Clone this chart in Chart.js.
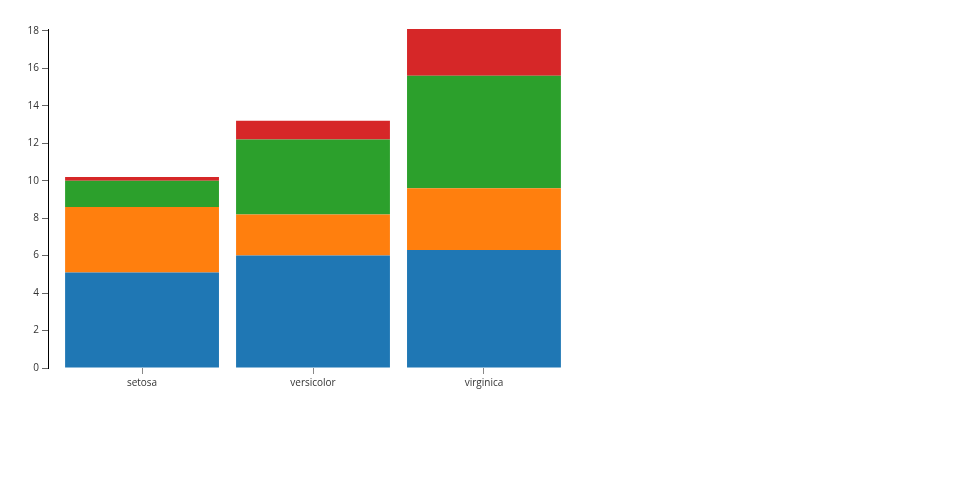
<!DOCTYPE html>
<html>
<head>
<meta charset="utf-8">
<script src="https://cdn.jsdelivr.net/npm/chart.js@4/dist/chart.umd.min.js"></script>
<style>
  html, body { margin: 0; padding: 0; background: #fff; }
  #wrap { width: 960px; height: 500px; }
</style>
</head>
<body>
<div id="wrap"><canvas id="irisChart"></canvas></div>
<script>
// Data

const species = ['setosa', 'versicolor', 'virginica'];
const sepalLength = [5.1, 6.0, 6.3];
const sepalWidth = [3.5, 2.2, 3.3];
const petalLength = [1.4, 4.0, 6.0];
const petalWidth = [0.2, 1.0, 2.5];
const yTicks = [0, 2, 4, 6, 8, 10, 12, 14, 16, 18];

const pallete = ['#1f77b4', '#ff7f0e', '#2ca02c', '#d62728'];

function toPoints(values) {
  return values.map((v, i) => ({ x: i, y: v }));
}

const font = { family: "'Open Sans', 'Noto Sans', sans-serif", size: 10 };

const irisChart = new Chart(document.getElementById('irisChart'), {
  type: 'bar',
  data: {
    datasets: [
      { label: 'sepal length', data: toPoints(sepalLength), backgroundColor: pallete[0] },
      { label: 'sepal width', data: toPoints(sepalWidth), backgroundColor: pallete[1] },
      { label: 'petal length', data: toPoints(petalLength), backgroundColor: pallete[2] },
      { label: 'petal width', data: toPoints(petalWidth), backgroundColor: pallete[3] },
    ]
  },
  options: {
    responsive: true,
    maintainAspectRatio: false,
    animation: false,
    events: [],
    layout: { padding: { left: 0, top: 29, right: 382, bottom: 102 } },
    datasets: { bar: { categoryPercentage: 1, barPercentage: 0.9, borderWidth: 0 } },
    plugins: { legend: { display: false }, tooltip: { enabled: false } },
    scales: {
      x: {
        type: 'linear',
        stacked: true,
        offset: false,
        min: -0.55,
        max: species.length - 0.45,
        afterBuildTicks: scale => { scale.ticks = species.map((s, i) => ({ value: i })); },
        afterFit: scale => { scale.height = 30; },
        ticks: {
          callback: (value) => species[value],
          font: font,
          color: '#333',
          padding: 3,
          autoSkip: false,
          maxRotation: 0,
        },
        grid: { offset: false, drawOnChartArea: false, tickLength: 6, color: '#888', lineWidth: 1 },
        border: { display: false },
      },
      y: {
        stacked: true,
        min: 0,
        max: 18.1,
        afterBuildTicks: scale => { scale.ticks = yTicks.map(v => ({ value: v })); },
        afterFit: scale => { scale.width = 48; },
        ticks: { font: font, color: '#333', padding: 3 },
        grid: { drawOnChartArea: false, tickLength: 6, color: '#666', lineWidth: 1 },
        border: { display: true, color: '#000', width: 1 },
      }
    }
  }
});
</script>
</body>
</html>
